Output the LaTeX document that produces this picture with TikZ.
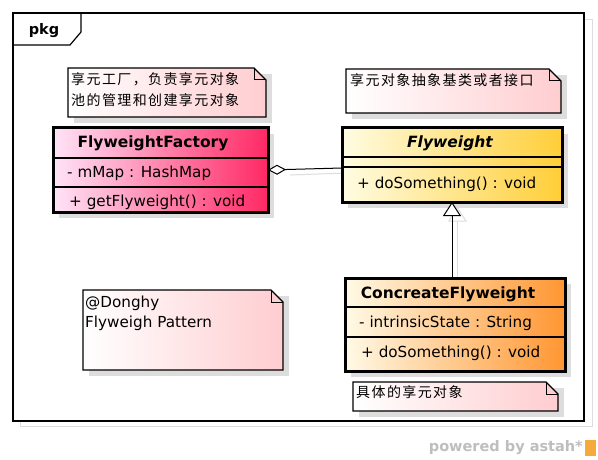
\documentclass[tikz,border=0pt]{standalone}
\usepackage{fontspec}
\setmainfont{DejaVu Sans}
\newfontfamily\cjk[LetterSpace=10]{Noto Sans CJK SC}
\usetikzlibrary{arrows.meta,calc}
\definecolor{shadowgray}{RGB}{221,221,221}
\definecolor{notepink}{RGB}{255,205,208}
\definecolor{facL}{RGB}{255,228,248}
\definecolor{facR}{RGB}{255,40,100}
\definecolor{flyL}{RGB}{255,252,226}
\definecolor{flyR}{RGB}{255,206,56}
\definecolor{conL}{RGB}{255,250,230}
\definecolor{conR}{RGB}{255,150,50}
\definecolor{astahgray}{RGB}{190,190,190}
\definecolor{astahorange}{RGB}{245,170,60}
\newcommand\drawnote[1]{%
  \fill[shadowgray] ([xshift=6pt,yshift=-6pt]#1.north west) rectangle ([xshift=6pt,yshift=-6pt]#1.south east);
  \draw[notestyle] (#1.north west) -- ([xshift=-12pt]#1.north east) -- ([yshift=-12pt]#1.north east) -- (#1.south east) -- (#1.south west) -- cycle;
  \draw[line width=1pt] ([xshift=-12pt]#1.north east) -- ([xshift=-12pt,yshift=-12pt]#1.north east) -- ([yshift=-12pt]#1.north east);
}
\newcommand\drawshadow[1]{%
  \fill[shadowgray] ([xshift=6pt,yshift=-6pt]#1.north west) rectangle ([xshift=6pt,yshift=-6pt]#1.south east);
}
\begin{document}
\begin{tikzpicture}[x=1pt,y=-1pt,
  classbox/.style={draw, line width=3pt, shade, inner sep=0pt, outer sep=0pt},
  sepline/.style={line width=1.2pt},
  notebox/.style={inner sep=0pt, outer sep=0pt},
  notestyle/.style={draw, line width=1.2pt, shade, left color=white, right color=notepink},
  txt/.style={inner sep=0pt, anchor=west, font=\fontsize{15.2pt}{17pt}\selectfont},
  ttl/.style={inner sep=0pt, font=\bfseries\fontsize{15.5pt}{17pt}\selectfont},
  cjktxt/.style={inner sep=0pt, anchor=west, font=\cjk\fontsize{14pt}{16pt}\selectfont},
  agg/.style={line width=1pt, {Diamond[fill=white, length=18pt, width=10pt, line width=1pt]}-},
  gen/.style={line width=1pt, -{Triangle[fill=white, length=14pt, width=18pt, line width=1pt]}},
  shline/.style={shadowgray, line width=1pt}
]
\useasboundingbox (0,0) rectangle (598,460);
\fill[white] (0,0) rectangle (598,460);
% frame
\draw[shadowgray, line width=1pt] (20,20) rectangle (592,426);
\fill[white] (13,13) rectangle (584,421);
\draw[line width=1.2pt] (13,13) rectangle (584,421);
\draw[line width=1.2pt] (13,45) -- (70,45) -- (81,32) -- (81,13);
\node[ttl, font=\bfseries\fontsize{14.5pt}{16pt}\selectfont] (pkg) at (44,31) {pkg};

% nodes (boxes)
\node[notebox, minimum width=198pt, minimum height=49pt] (n1) at (167,92.5) {};
\node[notebox, minimum width=215pt, minimum height=44pt] (n2) at (453.5,91) {};
\node[notebox, minimum width=205pt, minimum height=29pt] (n3) at (455.5,396.5) {};
\node[notebox, minimum width=200pt, minimum height=80pt] (n4) at (183,330) {};

\path (160.5,170) node[notebox, minimum width=215pt, minimum height=84pt] (factoryarea) {};
\path (452,165) node[notebox, minimum width=220pt, minimum height=74pt] (flyarea) {};
\path (455,324.5) node[notebox, minimum width=220pt, minimum height=93pt] (conarea) {};
\drawshadow{factoryarea}
\drawshadow{flyarea}
\drawshadow{conarea}

\drawnote{n1}
\drawnote{n2}
\drawnote{n3}
\drawnote{n4}

% connector shadows
\begin{scope}[transform canvas={xshift=5pt,yshift=-5pt}]
  \draw[shline] (285,170) -- (342,168);
  \draw[shline] (452,216) -- (452,278);
  \draw[shadowgray, line width=1pt] (444,216) -- (452,202) -- (461,216) -- cycle;
\end{scope}

% classes
\node[classbox, left color=facL, right color=facR, minimum width=215pt, minimum height=84pt] (factory) at (160.5,170) {};
\node[classbox, left color=flyL, right color=flyR, minimum width=220pt, minimum height=74pt] (fly) at (452,165) {};
\node[classbox, left color=conL, right color=conR, minimum width=220pt, minimum height=93pt] (con) at (455,324.5) {};

\draw[sepline] (factory.west |- 0,158) -- (factory.east |- 0,158);
\draw[sepline] (factory.west |- 0,187) -- (factory.east |- 0,187);
\draw[sepline] (fly.west |- 0,157) -- (fly.east |- 0,157);
\draw[sepline] (fly.west |- 0,167) -- (fly.east |- 0,167);
\draw[sepline] (con.west |- 0,307) -- (con.east |- 0,307);
\draw[sepline] (con.west |- 0,337) -- (con.east |- 0,337);

\node[ttl] (factoryname) at (153,143) {FlyweightFactory};
\node[txt] (factoryattr) at (67,173) {- mMap : HashMap};
\node[txt] (factoryop) at (69,202) {+ getFlyweight() : void};

\node[ttl, font=\bfseries\itshape\fontsize{15.5pt}{17pt}\selectfont] (flyname) at (450,143) {Flyweight};
\node[txt] (flyop) at (357,184) {+ doSomething() : void};

\node[ttl] (conname) at (448,294) {ConcreateFlyweight};
\node[txt] (conattr) at (359,323) {- intrinsicState : String};
\node[txt] (conop) at (361,353) {+ doSomething() : void};

% connectors
\draw[agg] (factory.east) -- ([yshift=-3pt]fly.west);
\draw[gen] (con.north -| fly.south) -- (fly.south);

% note texts
\node[cjktxt] (n1a) at (71,79) {享元工厂，负责享元对象};
\node[cjktxt] (n1b) at (71,100) {池的管理和创建享元对象};
\node[cjktxt] (n2a) at (350,80) {享元对象抽象基类或者接口};
\node[cjktxt] (n3a) at (356,392) {具体的享元对象};
\node[txt] (n4a) at (85,303) {@Donghy};
\node[txt] (n4b) at (85,323) {Flyweigh Pattern};

% powered by
\node[inner sep=0pt, anchor=east, text=astahgray, font=\bfseries\fontsize{14.5pt}{16pt}\selectfont] (powered) at (583,448) {powered by astah*};
\fill[astahorange] (585,440) rectangle (596,456);
\end{tikzpicture}
\end{document}
